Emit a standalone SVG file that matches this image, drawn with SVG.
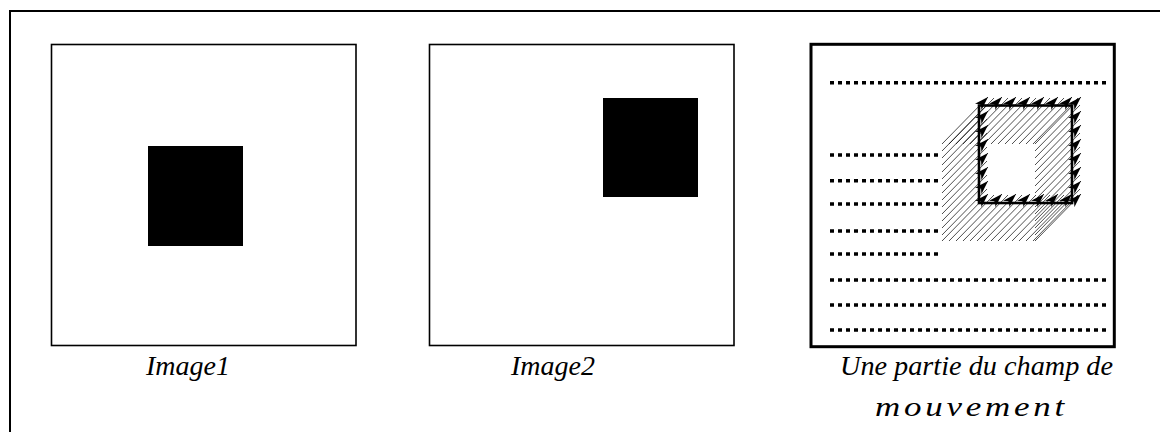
<svg xmlns="http://www.w3.org/2000/svg" width="1160" height="432" viewBox="0 0 1160 432">
<style>
.frame{fill:none;stroke:#000;stroke-width:2}
.box{fill:#fff;stroke:#000;stroke-width:1.6}
.box3{fill:#fff;stroke:#000;stroke-width:3}
.blk{fill:#000}
.dots{fill:none;stroke:#000;stroke-width:3.5;stroke-dasharray:4 4}
.h{fill:none;stroke:#000;stroke-width:0.7}
.sq{fill:none;stroke:#000;stroke-width:2.6}
.cap{font-family:"Liberation Serif","Times New Roman",serif;font-style:italic;font-size:28px;fill:#000}
</style>
<defs>
<marker id="ah" viewBox="0 0 14 9" refX="14" refY="4.5" markerWidth="14" markerHeight="9" markerUnits="userSpaceOnUse" orient="auto">
<path d="M0,0 L14,4.5 L0,9 L4,4.5 Z" fill="#000"/>
</marker>
</defs>
<rect width="1160" height="432" fill="#fff"/>
<rect class="frame" x="10" y="11" width="1170" height="440"/>

<g id="image1">
<rect class="box" x="51.5" y="44.5" width="304.5" height="301"/>
<rect class="blk" x="148" y="146" width="95" height="100"/>
<text class="cap" x="146" y="375">Image1</text>
</g>

<g id="image2">
<rect class="box" x="429.5" y="44.5" width="304.5" height="301"/>
<rect class="blk" x="603" y="98" width="95" height="99"/>
<text class="cap" x="511" y="375">Image2</text>
</g>

<g id="champ">
<rect class="box3" x="811" y="44.3" width="303.3" height="302.4"/>
<path class="dots" d="M830 82.7H1107 M830 155H938 M830 180.7H938 M830 204H938 M830 231H938 M830 254H938 M830 280H1107 M830 305H1107 M830 330H1107"/>
<path class="h" d="M942 151l45 -46 M942 165l45 -46 M942 179l45 -46 M942 193l45 -46 M942 207l45 -46 M942 221l45 -46 M942 235l45 -46
M949 144l45 -46 M963 144l45 -46 M977 144l45 -46 M991 144l45 -46 M1005 144l45 -46 M1019 144l45 -46 M1033 144l45 -46
M949 241l45 -46 M963 241l45 -46 M977 241l45 -46 M991 241l45 -46 M1005 241l45 -46 M1019 241l45 -46 M1033 241l45 -46
M1035 151l45 -46 M1035 165l45 -46 M1035 179l45 -46 M1035 193l45 -46 M1035 207l45 -46 M1035 221l45 -46 M1035 235l45 -46"/>
<rect class="sq" x="979" y="105.5" width="93" height="97.5"/>
<g class="h" marker-end="url(#ah)">
<line x1="942" y1="144" x2="988" y2="97"/><line x1="942" y1="158" x2="988" y2="111"/><line x1="942" y1="172" x2="988" y2="125"/><line x1="942" y1="186" x2="988" y2="139"/><line x1="942" y1="200" x2="988" y2="153"/><line x1="942" y1="214" x2="988" y2="167"/><line x1="942" y1="228" x2="988" y2="181"/><line x1="942" y1="241" x2="988" y2="194"/>
<line x1="956" y1="144" x2="1002" y2="97"/><line x1="970" y1="144" x2="1016" y2="97"/><line x1="984" y1="144" x2="1030" y2="97"/><line x1="998" y1="144" x2="1044" y2="97"/><line x1="1012" y1="144" x2="1058" y2="97"/><line x1="1026" y1="144" x2="1072" y2="97"/>
<line x1="956" y1="241" x2="1002" y2="194"/><line x1="970" y1="241" x2="1016" y2="194"/><line x1="984" y1="241" x2="1030" y2="194"/><line x1="998" y1="241" x2="1044" y2="194"/><line x1="1012" y1="241" x2="1058" y2="194"/><line x1="1026" y1="241" x2="1072" y2="194"/>
<line x1="1035" y1="144" x2="1081" y2="97"/><line x1="1035" y1="158" x2="1081" y2="111"/><line x1="1035" y1="172" x2="1081" y2="125"/><line x1="1035" y1="186" x2="1081" y2="139"/><line x1="1035" y1="200" x2="1081" y2="153"/><line x1="1035" y1="214" x2="1081" y2="167"/><line x1="1035" y1="228" x2="1081" y2="181"/><line x1="1035" y1="241" x2="1081" y2="194"/>
</g>
<text class="cap" x="840" y="375" textLength="273" lengthAdjust="spacingAndGlyphs">Une partie du champ de</text>
<text class="cap" x="875" y="416" font-size="30" letter-spacing="3" textLength="193" lengthAdjust="spacingAndGlyphs">mouvement</text>
</g>
</svg>
